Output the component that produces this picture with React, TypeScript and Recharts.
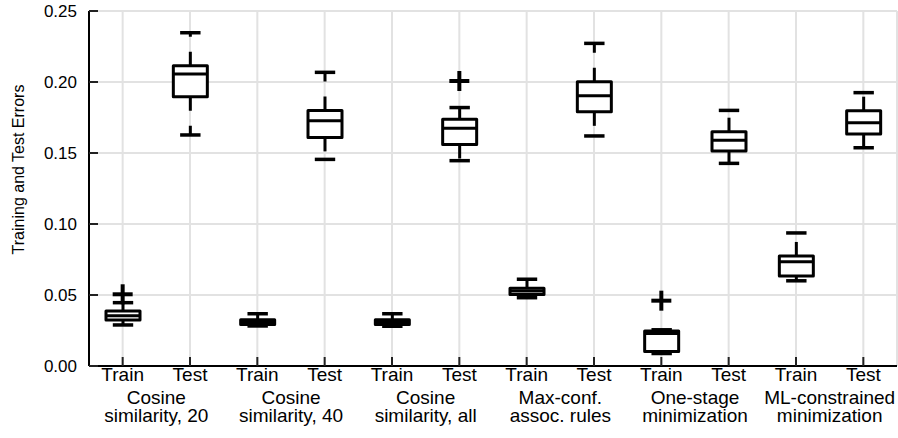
import { Bar, CartesianGrid, ComposedChart, Label, Scatter, XAxis, YAxis } from 'recharts';

const categories = ['Train', 'Test', 'Train', 'Test', 'Train', 'Test', 'Train', 'Test', 'Train', 'Test', 'Train', 'Test'];
const groupTop = ['Cosine', 'Cosine', 'Cosine', 'Max-conf.', 'One-stage', 'ML-constrained'];
const groupBottom = ['similarity, 20', 'similarity, 40', 'similarity, all', 'assoc. rules', 'minimization', 'minimization'];

const whiskerLow = [0.0289, 0.1627, 0.0282, 0.1455, 0.0280, 0.1446, 0.0481, 0.1620, 0.0088, 0.1427, 0.0600, 0.1537];
const q1 = [0.0324, 0.1897, 0.0292, 0.1610, 0.0292, 0.1560, 0.0504, 0.1790, 0.0102, 0.1514, 0.0634, 0.1634];
const median = [0.0354, 0.2056, 0.0308, 0.1727, 0.0307, 0.1674, 0.0528, 0.1904, 0.0229, 0.1590, 0.0735, 0.1713];
const q3 = [0.0387, 0.2115, 0.0325, 0.1800, 0.0325, 0.1737, 0.0548, 0.2002, 0.0246, 0.1650, 0.0775, 0.1798];
const whiskerHigh = [0.0446, 0.2347, 0.0368, 0.2068, 0.0368, 0.1820, 0.0611, 0.2272, 0.0255, 0.1800, 0.0937, 0.1925];
const outliers: (number | null)[] = [0.0505, null, null, null, null, 0.2007, null, null, 0.046, null, null, null];

const yTicks = [0, 0.05, 0.1, 0.15, 0.2, 0.25];

const FONT = '"Liberation Sans", Arial, Helvetica, sans-serif';

const data = categories.map((cat, i) => ({
  cat,
  group: `${groupTop[Math.floor(i / 2)]}|${groupBottom[Math.floor(i / 2)]}`,
  range: [whiskerLow[i], whiskerHigh[i]],
  low: whiskerLow[i],
  q1: q1[i],
  med: median[i],
  q3: q3[i],
  high: whiskerHigh[i],
  outlier: outliers[i],
}));

function BoxShape(props: any) {
  const { x, y, width, height, payload } = props;
  if (x == null || y == null) return null;
  const top = Math.min(y, y + height);
  const bottom = Math.max(y, y + height);
  const span = payload.high - payload.low;
  const toY = (v: number) => bottom - ((v - payload.low) / span) * (bottom - top);
  const cx = x + width / 2;
  const capHalf = width * 0.3;
  const yq3 = toY(payload.q3);
  const yq1 = toY(payload.q1);
  const yMed = toY(payload.med);
  return (
    <g>
      <line x1={cx} x2={cx} y1={yq3} y2={top} stroke="#000" strokeWidth={3} strokeDasharray="14 15" />
      <line x1={cx} x2={cx} y1={yq1} y2={bottom} stroke="#000" strokeWidth={3} strokeDasharray="14 15" />
      <line x1={cx - capHalf} x2={cx + capHalf} y1={top} y2={top} stroke="#000" strokeWidth={3.5} />
      <line x1={cx - capHalf} x2={cx + capHalf} y1={bottom} y2={bottom} stroke="#000" strokeWidth={3.5} />
      <rect
        x={x}
        y={yq3}
        width={width}
        height={Math.max(yq1 - yq3, 0.5)}
        fill="#fff"
        stroke="#000"
        strokeWidth={3}
        strokeLinejoin="round"
      />
      <line x1={x} x2={x + width} y1={yMed} y2={yMed} stroke="#000" strokeWidth={3} />
    </g>
  );
}

function PlusShape(props: any) {
  const { cx, cy, payload } = props;
  if (payload?.outlier == null || cx == null || cy == null || isNaN(cy)) return null;
  return (
    <g>
      <line x1={cx - 10} x2={cx + 10} y1={cy} y2={cy} stroke="#000" strokeWidth={4} />
      <line x1={cx} x2={cx} y1={cy - 10} y2={cy + 10} stroke="#000" strokeWidth={4} />
    </g>
  );
}

function LeftTick({ x, y, payload }: any) {
  return (
    <g>
      <line x1={x + 12} x2={x + 21} y1={y} y2={y} stroke="#222" strokeWidth={2} />
      <text x={x} y={y} dy="0.36em" textAnchor="end" fontSize={17} fontFamily={FONT} fill="#000">
        {Number(payload.value).toFixed(2)}
      </text>
    </g>
  );
}

function RightTick({ x, y }: any) {
  return <line x1={x} x2={x - 9} y1={y} y2={y} stroke="#222" strokeWidth={2} />;
}

function TopTick({ x, y }: any) {
  return <line x1={x} x2={x} y1={y} y2={y + 9} stroke="#222" strokeWidth={2} />;
}

function BottomTick({ x, y, payload }: any) {
  return (
    <g>
      <line x1={x} x2={x} y1={y} y2={y - 9} stroke="#222" strokeWidth={2} />
      <text x={x} y={y + 15} textAnchor="middle" fontSize={19} fontFamily={FONT} fill="#000">
        {payload.value}
      </text>
    </g>
  );
}

// two-line group caption under each Train/Test pair
function GroupTick({ x, y, payload }: any) {
  const [a, b] = String(payload.value).split('|');
  return (
    <text x={x} y={y + 8} textAnchor="middle" fontSize={19} fontFamily={FONT} fill="#000">
      <tspan x={x}>{a}</tspan>
      <tspan x={x} dy={18}>
        {b}
      </tspan>
    </text>
  );
}

function YLabel({ viewBox }: any) {
  const cx = viewBox.x + 18;
  const cy = viewBox.y + viewBox.height / 2 - 19;
  return (
    <text
      x={cx}
      y={cy}
      transform={`rotate(-90 ${cx} ${cy})`}
      textAnchor="middle"
      dominantBaseline="central"
      fontSize={16}
      fontFamily={FONT}
      fill="#000"
    >
      Training and Test Errors
    </text>
  );
}

export default function App() {
  return (
    <div style={{ position: 'absolute', left: 0, top: 0 }}>
      <ComposedChart width={898} height={438} data={data} margin={{ top: 11, right: 1, bottom: 0, left: 0 }}>
        <CartesianGrid stroke="#e2e2e2" strokeWidth={2} />
        <XAxis
          dataKey="cat"
          height={30}
          tickSize={0}
          tickMargin={0}
          tickLine={false}
          interval={0}
          axisLine={{ stroke: '#000', strokeWidth: 2 }}
          tick={<BottomTick />}
        />
        <XAxis
          xAxisId="group"
          dataKey="group"
          allowDuplicatedCategory={false}
          height={42}
          tickSize={0}
          tickMargin={0}
          tickLine={false}
          interval={0}
          axisLine={false}
          tick={<GroupTick />}
        />
        <XAxis
          xAxisId="top"
          orientation="top"
          dataKey="cat"
          height={0}
          tickSize={0}
          tickMargin={0}
          tickLine={false}
          interval={0}
          axisLine={{ stroke: '#000', strokeWidth: 2 }}
          tick={<TopTick />}
        />
        <YAxis
          domain={[0, 0.25]}
          ticks={yTicks}
          width={89}
          tickSize={0}
          tickMargin={12}
          tickLine={false}
          interval={0}
          axisLine={{ stroke: '#000', strokeWidth: 2 }}
          tick={<LeftTick />}
        >
          <Label content={<YLabel />} />
        </YAxis>
        <YAxis
          yAxisId="right"
          orientation="right"
          domain={[0, 0.25]}
          ticks={yTicks}
          width={0}
          tickSize={0}
          tickMargin={0}
          tickLine={false}
          interval={0}
          axisLine={{ stroke: '#000', strokeWidth: 2 }}
          tick={<RightTick />}
        />
        <Bar dataKey="range" barSize={34} shape={<BoxShape />} isAnimationActive={false} />
        <Scatter dataKey="outlier" shape={<PlusShape />} isAnimationActive={false} />
      </ComposedChart>
    </div>
  );
}
